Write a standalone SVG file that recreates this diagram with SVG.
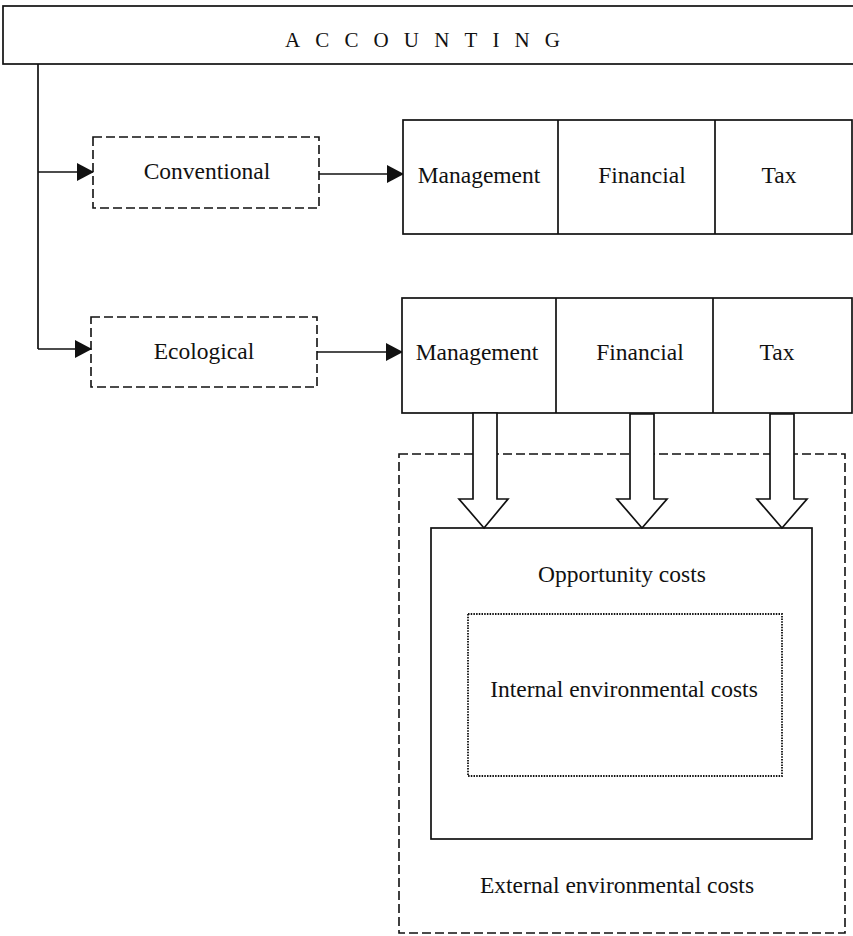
<svg xmlns="http://www.w3.org/2000/svg" width="853" height="936" viewBox="0 0 853 936">
  <style>
    .box { fill: #fff; stroke: #111; stroke-width: 1.7; }
    .dash { fill: none; stroke: #111; stroke-width: 1.6; stroke-dasharray: 9 4; }
    .dot { fill: none; stroke: #111; stroke-width: 1.8; stroke-dasharray: 1.5 1.2; }
    .line { fill: none; stroke: #111; stroke-width: 1.7; }
    .block { fill: #fff; stroke: #111; stroke-width: 1.7; stroke-linejoin: miter; }
    text { font-family: "Liberation Serif", "Times New Roman", serif; font-size: 23.5px; fill: #111; text-anchor: middle; }
  </style>
  <defs>
    <marker id="arrow" markerWidth="17" markerHeight="18" refX="16" refY="9" orient="auto" markerUnits="userSpaceOnUse">
      <path d="M0,0 L17,9 L0,18 Z" fill="#111"/>
    </marker>
  </defs>
  <rect width="853" height="936" fill="#fff"/>

  <!-- title bar -->
  <g id="accounting">
    <rect class="box" x="3" y="6" width="870" height="58"/>
    <text x="285" y="47" style="font-size:21px;text-anchor:start" textLength="275" lengthAdjust="spacing">ACCOUNTING</text>
  </g>

  <!-- connectors -->
  <g id="connectors">
    <path class="line" d="M38,64 L38,349"/>
    <path class="line" d="M38,172 L93,172" marker-end="url(#arrow)"/>
    <path class="line" d="M38,349 L91,349" marker-end="url(#arrow)"/>
    <path class="line" d="M319,174 L403,174" marker-end="url(#arrow)"/>
    <path class="line" d="M317,352 L402,352" marker-end="url(#arrow)"/>
  </g>

  <g id="conventional">
    <rect class="dash" x="93" y="137" width="226" height="71"/>
    <text x="207" y="179">Conventional</text>
  </g>

  <g id="ecological">
    <rect class="dash" x="91" y="317" width="226" height="70"/>
    <text x="204" y="359">Ecological</text>
  </g>

  <g id="conventional-types">
    <rect class="box" x="403" y="120" width="449" height="114"/>
    <path class="line" d="M558,120 L558,234 M715,120 L715,234"/>
    <text x="479" y="183">Management</text>
    <text x="642" y="183">Financial</text>
    <text x="779" y="183">Tax</text>
  </g>

  <g id="ecological-types">
    <rect class="box" x="402" y="298" width="450" height="115"/>
    <path class="line" d="M556,298 L556,413 M713,298 L713,413"/>
    <text x="477" y="360">Management</text>
    <text x="640" y="360">Financial</text>
    <text x="777" y="360">Tax</text>
  </g>

  <g id="external-costs">
    <rect class="dash" x="399" y="454" width="446" height="479"/>
    <text x="617" y="893">External environmental costs</text>
  </g>

  <g id="opportunity-costs">
    <rect class="box" x="431" y="528" width="381" height="311"/>
    <text x="622" y="582">Opportunity costs</text>
  </g>

  <g id="internal-costs">
    <rect class="dot" x="468" y="614" width="314" height="162"/>
    <text x="624" y="697">Internal environmental costs</text>
  </g>

  <!-- block arrows down into the cost boxes -->
  <g id="block-arrows">
    <polygon class="block" points="473,413 497,413 497,499 508,499 484,528 459,499 473,499"/>
    <polygon class="block" points="630,414 654,414 654,499 667,499 642,528 617,499 630,499"/>
    <polygon class="block" points="770,414 794,414 794,499 807,499 782,528 757,499 770,499"/>
  </g>
</svg>
